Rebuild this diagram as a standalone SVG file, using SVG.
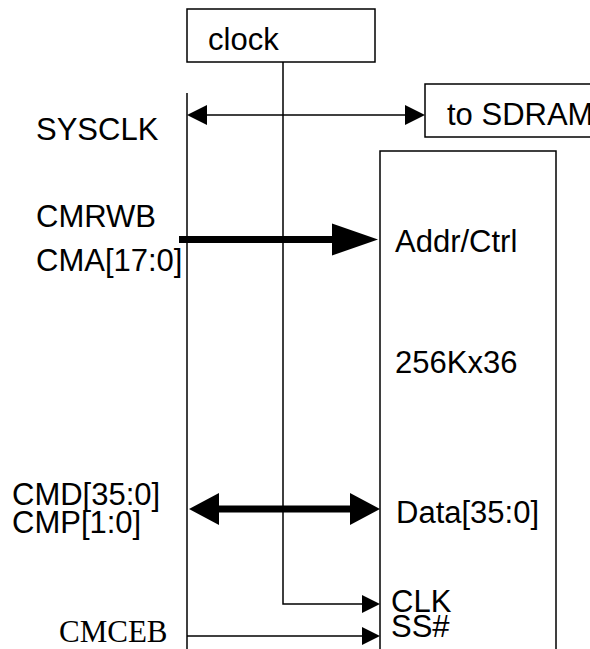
<svg xmlns="http://www.w3.org/2000/svg" width="590" height="649" viewBox="0 0 590 649">
<style>
.box{fill:#fff;stroke:#000;stroke-width:1.5}
.ln{fill:none;stroke:#000;stroke-width:1.5}
.thick{fill:none;stroke:#000;stroke-width:7}
.hd{fill:#000;stroke:none}
.t{font-family:"Liberation Sans",Arial,sans-serif;font-size:31px;fill:#000}
.ts{font-family:"Liberation Serif","Times New Roman",serif;font-size:31px;fill:#000}
</style>
<rect width="590" height="649" fill="#fff"/>
<g id="clock">
<rect class="box" x="187" y="9" width="188" height="53"/>
<text class="t" x="208" y="50">clock</text>
</g>
<g id="to-sdram">
<rect class="box" x="425" y="84" width="180" height="53"/>
<text class="t" x="447" y="125">to SDRAM</text>
</g>
<g id="sram">
<rect class="box" x="380" y="151" width="176" height="510"/>
<text class="t" x="395" y="252">Addr/Ctrl</text>
<text class="t" x="395" y="373">256Kx36</text>
<text class="t" x="396" y="523">Data[35:0]</text>
<text class="t" x="391" y="612">CLK</text>
<text class="t" x="391" y="637">SS#</text>
</g>
<g id="labels">
<text class="t" x="36" y="140">SYSCLK</text>
<text class="t" x="36" y="227">CMRWB</text>
<text class="t" x="36" y="271">CMA[17:0]</text>
<text class="t" x="12" y="505">CMD[35:0]</text>
<text class="t" x="12" y="533">CMP[1:0]</text>
<text class="ts" x="59" y="642">CMCEB</text>
</g>
<g id="connectors">
<line class="ln" x1="187" y1="93" x2="187" y2="649"/>
<polyline class="ln" points="283,62 283,604 364,604"/>
<polygon class="hd" points="362,595 380,604 362,613"/>
<line class="ln" x1="205" y1="115" x2="408" y2="115"/>
<polygon class="hd" points="187,115 207,105 207,125"/>
<polygon class="hd" points="425,115 405,105 405,125"/>
<line class="thick" x1="179" y1="239.5" x2="334" y2="239.5"/>
<polygon class="hd" points="378,239.5 332,223.5 332,255.5"/>
<line class="thick" x1="215" y1="509" x2="352" y2="509"/>
<polygon class="hd" points="189,509 219,493 219,525"/>
<polygon class="hd" points="380,509 350,493 350,525"/>
<line class="ln" x1="187" y1="636" x2="364" y2="636"/>
<polygon class="hd" points="362,627 380,636 362,645"/>
</g>
</svg>
